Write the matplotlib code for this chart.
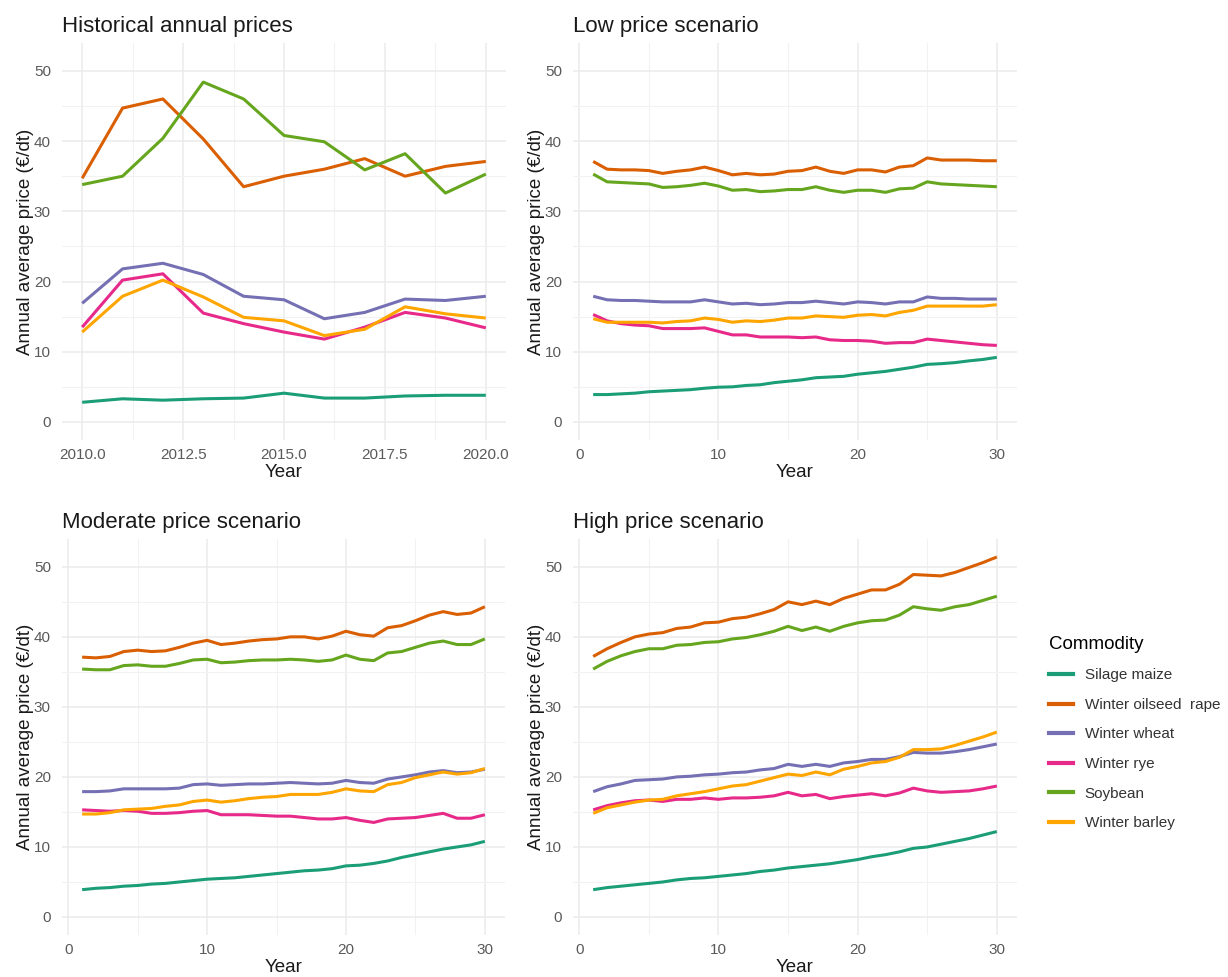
import numpy as np
import matplotlib
matplotlib.use("Agg")
import matplotlib.pyplot as plt
from matplotlib.ticker import MultipleLocator, FormatStrFormatter
from matplotlib.lines import Line2D

plt.rcParams['font.family'] = ['Liberation Sans', 'DejaVu Sans']

commodities = ["Silage maize", "Winter oilseed  rape", "Winter wheat",
               "Winter rye", "Soybean", "Winter barley"]
colors = ["#1B9E77", "#D95F02", "#7570B3", "#E7298A", "#66A61E", "#FFA500"]

# historical prices 2010-2020
hist_years = list(range(2010, 2021))
hist_maize = [2.8, 3.3, 3.1, 3.3, 3.4, 4.1, 3.4, 3.4, 3.7, 3.8, 3.8]
hist_rape = [34.7, 44.7, 46.0, 40.3, 33.5, 35.0, 36.0, 37.5, 35.0, 36.4, 37.1]
hist_wheat = [16.9, 21.8, 22.6, 21.0, 17.9, 17.4, 14.7, 15.6, 17.5, 17.3, 17.9]
hist_rye = [13.5, 20.2, 21.1, 15.5, 14.0, 12.8, 11.8, 13.5, 15.6, 14.8, 13.4]
hist_soy = [33.8, 35.0, 40.4, 48.4, 46.0, 40.8, 39.9, 35.9, 38.2, 32.6, 35.3]
hist_barley = [12.8, 17.9, 20.2, 17.8, 14.9, 14.4, 12.3, 13.2, 16.4, 15.4, 14.8]

# scenario years 1-30
years = list(range(1, 31))

low_maize = [3.9, 3.9, 4.0, 4.1, 4.3, 4.4, 4.5, 4.6, 4.8, 4.95, 5.0, 5.2, 5.3, 5.6, 5.8,
             6.0, 6.3, 6.4, 6.5, 6.8, 7.0, 7.2, 7.5, 7.8, 8.2, 8.3, 8.45, 8.7, 8.9, 9.2]
low_rape = [37.1, 36.0, 35.9, 35.9, 35.8, 35.4, 35.7, 35.9, 36.3, 35.8, 35.2, 35.4, 35.2, 35.3, 35.7,
            35.8, 36.3, 35.7, 35.4, 35.9, 35.9, 35.6, 36.3, 36.5, 37.6, 37.3, 37.3, 37.3, 37.2, 37.2]
low_wheat = [17.9, 17.4, 17.3, 17.3, 17.2, 17.1, 17.1, 17.1, 17.4, 17.1, 16.8, 16.9, 16.7, 16.8, 17.0,
             17.0, 17.2, 17.0, 16.8, 17.1, 17.0, 16.8, 17.1, 17.1, 17.8, 17.6, 17.6, 17.5, 17.5, 17.5]
low_rye = [15.3, 14.4, 14.0, 13.8, 13.7, 13.3, 13.3, 13.3, 13.4, 12.9, 12.4, 12.4, 12.1, 12.1, 12.1,
           12.0, 12.1, 11.7, 11.6, 11.6, 11.5, 11.2, 11.3, 11.3, 11.8, 11.6, 11.4, 11.2, 11.0, 10.9]
low_soy = [35.3, 34.2, 34.1, 34.0, 33.9, 33.4, 33.5, 33.7, 34.0, 33.6, 33.0, 33.1, 32.8, 32.9, 33.1,
           33.1, 33.5, 33.0, 32.7, 33.0, 33.0, 32.7, 33.2, 33.3, 34.2, 33.9, 33.8, 33.7, 33.6, 33.5]
low_barley = [14.7, 14.2, 14.2, 14.2, 14.2, 14.1, 14.3, 14.4, 14.8, 14.6, 14.2, 14.4, 14.3, 14.5, 14.8,
              14.8, 15.1, 15.0, 14.9, 15.2, 15.3, 15.1, 15.6, 15.9, 16.5, 16.5, 16.5, 16.5, 16.5, 16.7]

mod_maize = [3.9, 4.1, 4.2, 4.4, 4.5, 4.7, 4.8, 5.0, 5.2, 5.4, 5.5, 5.6, 5.8, 6.0, 6.2,
             6.4, 6.6, 6.7, 6.9, 7.3, 7.4, 7.65, 8.0, 8.5, 8.9, 9.3, 9.7, 10.0, 10.3, 10.8]
mod_rape = [37.1, 37.0, 37.2, 37.9, 38.1, 37.9, 38.0, 38.5, 39.1, 39.5, 38.9, 39.1, 39.4, 39.6, 39.7,
            40.0, 40.0, 39.7, 40.1, 40.8, 40.3, 40.1, 41.3, 41.6, 42.3, 43.1, 43.6, 43.2, 43.4, 44.3]
mod_wheat = [17.9, 17.9, 18.0, 18.3, 18.3, 18.3, 18.3, 18.4, 18.9, 19.0, 18.8, 18.9, 19.0, 19.0, 19.1,
             19.2, 19.1, 19.0, 19.1, 19.5, 19.2, 19.1, 19.7, 20.0, 20.3, 20.7, 20.9, 20.6, 20.7, 21.1]
mod_rye = [15.3, 15.2, 15.1, 15.2, 15.1, 14.8, 14.8, 14.9, 15.1, 15.2, 14.6, 14.6, 14.6, 14.5, 14.4,
           14.4, 14.2, 14.0, 14.0, 14.2, 13.8, 13.5, 14.0, 14.1, 14.2, 14.5, 14.8, 14.1, 14.1, 14.6]
mod_soy = [35.4, 35.3, 35.3, 35.9, 36.0, 35.8, 35.8, 36.2, 36.7, 36.8, 36.3, 36.4, 36.6, 36.7, 36.7,
           36.8, 36.7, 36.5, 36.7, 37.4, 36.8, 36.6, 37.7, 37.9, 38.5, 39.1, 39.4, 38.9, 38.9, 39.7]
mod_barley = [14.7, 14.7, 14.9, 15.3, 15.4, 15.5, 15.8, 16.0, 16.5, 16.7, 16.4, 16.6, 16.9, 17.1, 17.2,
              17.5, 17.5, 17.5, 17.8, 18.3, 18.0, 17.9, 18.9, 19.2, 19.9, 20.3, 20.7, 20.4, 20.6, 21.2]

high_maize = [3.9, 4.2, 4.4, 4.6, 4.8, 5.0, 5.3, 5.5, 5.6, 5.8, 6.0, 6.2, 6.5, 6.7, 7.0,
              7.2, 7.4, 7.6, 7.9, 8.2, 8.6, 8.9, 9.3, 9.8, 10.0, 10.4, 10.8, 11.2, 11.7, 12.2]
high_rape = [37.2, 38.3, 39.2, 40.0, 40.4, 40.6, 41.2, 41.4, 42.0, 42.1, 42.6, 42.8, 43.3, 43.9, 45.0,
             44.6, 45.1, 44.6, 45.5, 46.1, 46.7, 46.7, 47.5, 48.9, 48.8, 48.7, 49.2, 49.9, 50.6, 51.4]
high_wheat = [17.9, 18.6, 19.0, 19.5, 19.6, 19.7, 20.0, 20.1, 20.3, 20.4, 20.6, 20.7, 21.0, 21.2, 21.8,
              21.5, 21.8, 21.5, 22.0, 22.2, 22.5, 22.5, 22.9, 23.5, 23.4, 23.4, 23.6, 23.9, 24.3, 24.7]
high_rye = [15.3, 15.9, 16.3, 16.6, 16.7, 16.5, 16.8, 16.8, 17.0, 16.8, 17.0, 17.0, 17.1, 17.3, 17.8,
            17.3, 17.5, 16.9, 17.2, 17.4, 17.6, 17.3, 17.7, 18.4, 18.0, 17.8, 17.9, 18.0, 18.3, 18.7]
high_soy = [35.4, 36.5, 37.3, 37.9, 38.3, 38.3, 38.8, 38.9, 39.2, 39.3, 39.7, 39.9, 40.3, 40.8, 41.5,
            40.9, 41.4, 40.8, 41.5, 42.0, 42.3, 42.4, 43.1, 44.3, 44.0, 43.8, 44.3, 44.6, 45.2, 45.8]
high_barley = [14.8, 15.6, 16.0, 16.4, 16.7, 16.8, 17.3, 17.6, 17.9, 18.3, 18.7, 18.9, 19.4, 19.9, 20.4,
               20.2, 20.7, 20.3, 21.1, 21.5, 22.0, 22.2, 22.8, 23.9, 23.9, 24.0, 24.5, 25.1, 25.7, 26.4]

panels = [
    ("Historical annual prices", hist_years,
     [hist_maize, hist_rape, hist_wheat, hist_rye, hist_soy, hist_barley]),
    ("Low price scenario", years,
     [low_maize, low_rape, low_wheat, low_rye, low_soy, low_barley]),
    ("Moderate price scenario", years,
     [mod_maize, mod_rape, mod_wheat, mod_rye, mod_soy, mod_barley]),
    ("High price scenario", years,
     [high_maize, high_rape, high_wheat, high_rye, high_soy, high_barley]),
]

W, H = 1228, 977
fig = plt.figure(figsize=(W / 100, H / 100), dpi=100)
fig.patch.set_facecolor("white")

# axes boxes in pixels: left, top, right, bottom
boxes = [(62, 43, 506, 440), (573, 43, 1017, 440),
         (62, 539, 505, 935), (573, 539, 1017, 935)]

all_vals = [v for _, _, series in panels for s in series for v in s]
ymax = max(all_vals)
ypad = 0.05 * ymax

for (title, x, series), (l, t, r, b) in zip(panels, boxes):
    ax = fig.add_axes([l / W, 1 - b / H, (r - l) / W, (b - t) / H])
    for s, c in zip(series, colors):
        ax.plot(x, s, color=c, lw=2.2, solid_capstyle="butt")
    xpad = 0.05 * (max(x) - min(x))
    ax.set_xlim(min(x) - xpad, max(x) + xpad)
    ax.set_ylim(-ypad, ymax + ypad)
    if title.startswith("Historical"):
        ax.xaxis.set_major_locator(MultipleLocator(2.5))
        ax.xaxis.set_minor_locator(MultipleLocator(1.25))
        ax.xaxis.set_major_formatter(FormatStrFormatter("%.1f"))
    else:
        ax.xaxis.set_major_locator(MultipleLocator(10))
        ax.xaxis.set_minor_locator(MultipleLocator(5))
    ax.yaxis.set_major_locator(MultipleLocator(10))
    ax.yaxis.set_minor_locator(MultipleLocator(5))
    ax.grid(which="major", color="#EBEBEB", lw=1.1)
    ax.grid(which="minor", color="#F2F2F2", lw=0.8)
    ax.set_axisbelow(True)
    for sp in ax.spines.values():
        sp.set_visible(False)
    ax.tick_params(which="both", length=0, labelsize=11, labelcolor="#5A5A5A")
    ax.tick_params(axis="x", pad=6)
    ax.tick_params(axis="y", pad=8)
    ax.set_title(title, loc="left", fontsize=16, color="#1A1A1A", pad=8)
    ax.set_xlabel("Year", fontsize=13.5, color="#1A1A1A", labelpad=1)
    ax.set_ylabel("Annual average price (€/dt)", fontsize=13.5, color="#1A1A1A", labelpad=0)

handles = [Line2D([], [], color=c, lw=3) for c in colors]
leg = fig.legend(handles, commodities, loc="upper left",
                 bbox_to_anchor=(1035 / W, 1 - 622 / H), frameon=False,
                 fontsize=11, title="Commodity", title_fontsize=13.5,
                 labelspacing=1.02, handlelength=1.6, handletextpad=0.75,
                 alignment="left")
for txt in leg.get_texts():
    txt.set_color("#333333")

fig.savefig("out.png", dpi=100, facecolor="white")
